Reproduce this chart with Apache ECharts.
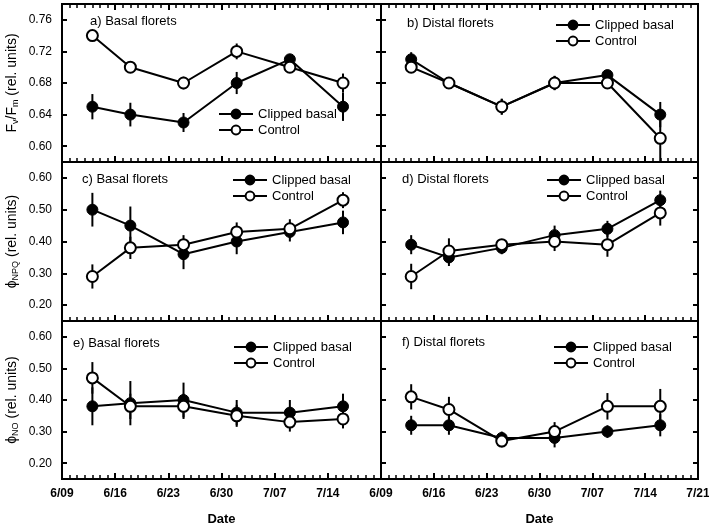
<!DOCTYPE html>
<html>
<head>
<meta charset="utf-8">
<script src="https://cdn.jsdelivr.net/npm/echarts@6/dist/echarts.min.js"></script>
<style>
html, body { margin: 0; padding: 0; background: #fff; }
#chart { width: 709px; height: 528px; }
</style>
</head>
<body>
<div id="chart"></div>
<script>
// days after 6/09 for each sampling date
const dayOffsets = [4, 9, 16, 23, 30, 37];
const xTickLabels = ['6/09', '6/16', '6/23', '6/30', '7/07', '7/14', '7/21'];
const fvTicks = [0.60, 0.64, 0.68, 0.72, 0.76];
const phiTicks = [0.20, 0.30, 0.40, 0.50, 0.60];

// a) Fv/Fm basal
const fvBasalClipped = [0.65, 0.64, 0.63, 0.68, 0.71, 0.65];
const fvBasalClippedErr = [0.016, 0.015, 0.012, 0.014, 0.005, 0.018];
const fvBasalControl = [0.74, 0.70, 0.68, 0.72, 0.70, 0.68];
const fvBasalControlErr = [0.003, 0.003, 0.008, 0.010, 0.003, 0.012];
// b) Fv/Fm distal
const fvDistalClipped = [0.71, 0.68, 0.65, 0.68, 0.69, 0.64];
const fvDistalClippedErr = [0.009, 0.007, 0.010, 0.009, 0.005, 0.016];
const fvDistalControl = [0.70, 0.68, 0.65, 0.68, 0.68, 0.61];
const fvDistalControlErr = [0.006, 0.007, 0.010, 0.009, 0.004, 0.030];
// c) phiNPQ basal
const npqBasalClipped = [0.50, 0.45, 0.36, 0.40, 0.43, 0.46];
const npqBasalClippedErr = [0.053, 0.060, 0.047, 0.040, 0.030, 0.037];
const npqBasalControl = [0.29, 0.38, 0.39, 0.43, 0.44, 0.53];
const npqBasalControlErr = [0.038, 0.035, 0.030, 0.030, 0.030, 0.025];
// d) phiNPQ distal
const npqDistalClipped = [0.39, 0.35, 0.38, 0.42, 0.44, 0.53];
const npqDistalClippedErr = [0.030, 0.027, 0.020, 0.030, 0.025, 0.030];
const npqDistalControl = [0.29, 0.37, 0.39, 0.40, 0.39, 0.49];
const npqDistalControlErr = [0.040, 0.040, 0.015, 0.030, 0.038, 0.040];
// e) phiNO basal
const noBasalClipped = [0.38, 0.39, 0.40, 0.36, 0.36, 0.38];
const noBasalClippedErr = [0.060, 0.070, 0.055, 0.040, 0.040, 0.040];
const noBasalControl = [0.47, 0.38, 0.38, 0.35, 0.33, 0.34];
const noBasalControlErr = [0.050, 0.040, 0.040, 0.035, 0.030, 0.030];
// f) phiNO distal
const noDistalClipped = [0.32, 0.32, 0.28, 0.28, 0.30, 0.32];
const noDistalClippedErr = [0.030, 0.030, 0.020, 0.030, 0.020, 0.035];
const noDistalControl = [0.41, 0.37, 0.27, 0.30, 0.38, 0.38];
const noDistalControlErr = [0.040, 0.040, 0.020, 0.030, 0.042, 0.055];

const FONT = 'Liberation Sans, Arial, Helvetica, sans-serif';

const panels = [
  { title: 'a) Basal florets', clipped: fvBasalClipped, clippedErr: fvBasalClippedErr, control: fvBasalControl, controlErr: fvBasalControlErr,
    row: 0, col: 0, titlePos: [90, 15], legendPos: [218, 107] },
  { title: 'b) Distal florets', clipped: fvDistalClipped, clippedErr: fvDistalClippedErr, control: fvDistalControl, controlErr: fvDistalControlErr,
    row: 0, col: 1, titlePos: [407, 17], legendPos: [555, 18] },
  { title: 'c) Basal florets', clipped: npqBasalClipped, clippedErr: npqBasalClippedErr, control: npqBasalControl, controlErr: npqBasalControlErr,
    row: 1, col: 0, titlePos: [82, 173], legendPos: [232, 173] },
  { title: 'd) Distal florets', clipped: npqDistalClipped, clippedErr: npqDistalClippedErr, control: npqDistalControl, controlErr: npqDistalControlErr,
    row: 1, col: 1, titlePos: [402, 173], legendPos: [546, 173] },
  { title: 'e) Basal florets', clipped: noBasalClipped, clippedErr: noBasalClippedErr, control: noBasalControl, controlErr: noBasalControlErr,
    row: 2, col: 0, titlePos: [73, 337], legendPos: [233, 340] },
  { title: 'f) Distal florets', clipped: noDistalClipped, clippedErr: noDistalClippedErr, control: noDistalControl, controlErr: noDistalControlErr,
    row: 2, col: 1, titlePos: [402, 336], legendPos: [553, 340] }
];

const rowTops = [4, 162, 321];
const rowHeights = [158, 159, 158];
const rowRange = [[0.58, 0.78], [0.15, 0.65], [0.15, 0.65]];
const rowTicks = [fvTicks, phiTicks, phiTicks];
const rowNames = [
  'F{s|v}/F{s|m} (rel. units)',
  '\u03d5{s|NPQ} (rel. units)',
  '\u03d5{s|NO} (rel. units)'
];

const grid = [], xAxis = [], yAxis = [], series = [], title = [], legend = [];

function xAxisBase(gi, pos, showLabels) {
  return {
    type: 'value', gridIndex: gi, position: pos, min: 0, max: 42, interval: 7,
    axisLine: { show: false },
    axisTick: { show: true, inside: true, length: 6, lineStyle: { color: '#000', width: 2 } },
    minorTick: { show: true, splitNumber: 7, length: 4, lineStyle: { color: '#000', width: 1.5 } },
    splitLine: { show: false },
    axisLabel: {
      show: showLabels, color: '#000', fontSize: 12, fontWeight: 'bold', fontFamily: FONT, margin: 9,
      formatter: v => xTickLabels[Math.round(v / 7)]
    }
  };
}

function yAxisBase(gi, row, pos, showLabels) {
  return {
    type: 'value', gridIndex: gi, position: pos, min: rowRange[row][0], max: rowRange[row][1],
    axisLine: { show: false },
    axisTick: { show: true, inside: true, length: 5, customValues: rowTicks[row], lineStyle: { color: '#000', width: 2 } },
    splitLine: { show: false },
    axisLabel: {
      show: showLabels, customValues: rowTicks[row], color: '#000', fontSize: 12, fontFamily: FONT, margin: 10,
      formatter: v => v.toFixed(2)
    }
  };
}

function errorSeries(gi, vals, errs) {
  return {
    type: 'custom', xAxisIndex: gi, yAxisIndex: gi, z: 1, silent: true,
    data: dayOffsets.map((d, i) => [d, vals[i] - errs[i], vals[i] + errs[i]]),
    encode: { x: 0, y: [1, 2] },
    renderItem: (params, api) => {
      const p1 = api.coord([api.value(0), api.value(1)]);
      const p2 = api.coord([api.value(0), api.value(2)]);
      return { type: 'line', shape: { x1: p1[0], y1: p1[1], x2: p2[0], y2: p2[1] },
        style: { stroke: '#000', lineWidth: 2 } };
    }
  };
}

panels.forEach((p, gi) => {
  const left = p.col === 0 ? 62 : 381;
  const right = p.col === 0 ? 328 : 11;
  grid.push({ left: left, right: right, top: rowTops[p.row], height: rowHeights[p.row],
    outerBoundsMode: 'none', containLabel: false,
    show: true, borderColor: '#000', borderWidth: 2, backgroundColor: 'transparent' });

  const xa = xAxisBase(gi, 'bottom', p.row === 2);
  if (p.row === 2) {
    xa.name = 'Date';
    xa.nameLocation = 'middle';
    xa.nameGap = 34;
    xa.nameTextStyle = { color: '#000', fontSize: 13, fontWeight: 'bold', fontFamily: FONT };
    if (p.col === 0) xa.axisLabel.showMaxLabel = false;
  }
  xAxis.push(xa);

  const ya = yAxisBase(gi, p.row, 'left', p.col === 0);
  if (p.col === 0) {
    ya.name = rowNames[p.row];
    ya.nameLocation = 'middle';
    ya.nameGap = 42;
    ya.nameTextStyle = { color: '#000', fontSize: 14, fontFamily: FONT,
      rich: { s: { fontSize: 9, fontFamily: FONT, color: '#000', padding: [7, 0, 0, 0] } } };
  }
  yAxis.push(ya);

  title.push({ text: p.title, left: p.titlePos[0], top: p.titlePos[1], padding: 0,
    textStyle: { fontSize: 13, fontWeight: 'normal', color: '#000', fontFamily: FONT } });

  legend.push({ left: p.legendPos[0], top: p.legendPos[1], orient: 'vertical', padding: 0,
    itemWidth: 34, itemHeight: 11, itemGap: 2, selectedMode: false,
    textStyle: { fontSize: 13, lineHeight: 14, color: '#000', fontFamily: FONT },
    data: ['Clipped basal', 'Control'] });

  series.push(errorSeries(gi, p.clipped, p.clippedErr));
  series.push(errorSeries(gi, p.control, p.controlErr));
  series.push({
    name: 'Clipped basal', type: 'line', xAxisIndex: gi, yAxisIndex: gi, z: 3,
    data: dayOffsets.map((d, i) => [d, p.clipped[i]]),
    symbol: 'circle', symbolSize: 11,
    lineStyle: { color: '#000', width: 2 },
    itemStyle: { color: '#000', borderColor: '#000', borderWidth: 1 }
  });
  series.push({
    name: 'Control', type: 'line', xAxisIndex: gi, yAxisIndex: gi, z: 4,
    data: dayOffsets.map((d, i) => [d, p.control[i]]),
    symbol: 'circle', symbolSize: 11,
    lineStyle: { color: '#000', width: 2 },
    itemStyle: { color: '#fff', borderColor: '#000', borderWidth: 2 }
  });
});

// top tick marks on the upper panels
[0, 1].forEach(gi => {
  xAxis.push(xAxisBase(gi, 'top', false));
});
// tick marks on the right border of the right-hand panels
[1, 3, 5].forEach(gi => {
  yAxis.push(yAxisBase(gi, panels[gi].row, 'right', false));
});

const chart = echarts.init(document.getElementById('chart'));
chart.setOption({
  animation: false,
  backgroundColor: '#fff',
  title: title,
  legend: legend,
  grid: grid,
  xAxis: xAxis,
  yAxis: yAxis,
  series: series
});
</script>
</body>
</html>
